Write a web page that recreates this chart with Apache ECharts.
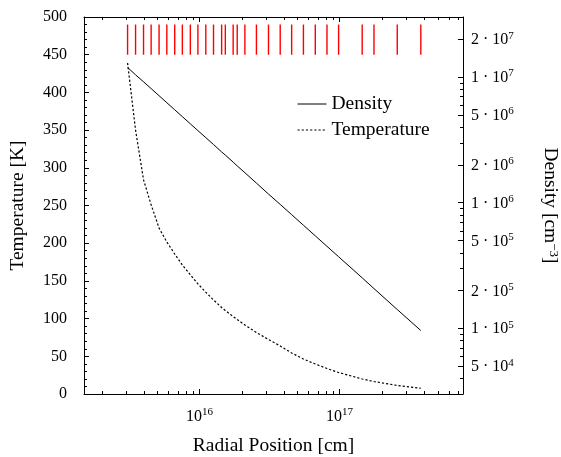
<!DOCTYPE html>
<html><head><meta charset="utf-8">
<script src="https://cdn.jsdelivr.net/npm/echarts@6/dist/echarts.min.js"></script>
<style>html,body{margin:0;padding:0;background:#fff}#c{width:561px;height:457px}</style>
</head><body><div id="c"></div>
<script>
// Radial grid cell positions [cm] (red marks) — also the sample radii of the profiles
const radius = [3.07e15, 3.50e15, 3.99e15, 4.52e15, 5.15e15, 5.85e15, 6.66e15, 7.55e15, 8.61e15, 9.75e15,
  1.11e16, 1.26e16, 1.44e16, 1.53e16, 1.74e16, 1.86e16, 2.11e16, 2.55e16, 3.11e16, 3.77e16,
  4.55e16, 5.52e16, 6.71e16, 8.13e16, 9.84e16, 1.45e17, 1.76e17, 2.58e17, 3.80e17];
// Density [cm^-3]
const density = [1.19e7, 1.04e7, 9.15e6, 8.08e6, 7.09e6, 6.24e6, 5.48e6, 4.83e6, 4.24e6, 3.74e6,
  3.29e6, 2.90e6, 2.53e6, 2.39e6, 2.10e6, 1.96e6, 1.73e6, 1.43e6, 1.17e6, 9.68e5,
  8.02e5, 6.61e5, 5.44e5, 4.49e5, 3.71e5, 2.52e5, 2.07e5, 1.41e5, 9.6e4];
// Temperature [K]
const temperature = [439, 350, 284, 251, 220, 201.6, 185.7, 171, 158, 146,
  135, 124.7, 114.7, 110.7, 102.8, 98.8, 91.5, 81.6, 72.3, 63.7,
  54.4, 46.4, 39.8, 33.8, 28.5, 19.9, 16.6, 11.3, 7.6];
// Axis ticks
const xMinorTicks = [2e15,3e15,4e15,5e15,6e15,7e15,8e15,9e15,
  2e16,3e16,4e16,5e16,6e16,7e16,8e16,9e16, 2e17,3e17,4e17,5e17,6e17,7e17];
const densityMinorTicks = [4e4,6e4,7e4,8e4,9e4, 3e5,4e5,6e5,7e5,8e5,9e5, 3e6,4e6,6e6,7e6,8e6,9e6];
const tempTicks = [0,50,100,150,200,250,300,350,400,450,500];
const densityLabelMultipliers = [1, 2, 5];
const markLow = 450, markHigh = 490;

const X_MIN = 1.5e15, X_MAX = 7.6e17;
const T_MIN = 0, T_MAX = 500;
const D_MIN = 3e4, D_MAX = 3e7;
const FONT = '"Liberation Serif", "DejaVu Serif", serif';

const chart = echarts.init(document.getElementById('c'), null, {renderer: 'canvas'});

const supRich = {
  b: {fontFamily: FONT, fontSize: 16, color: '#000', verticalAlign: 'bottom', lineHeight: 18},
  s: {fontFamily: FONT, fontSize: 11, color: '#000', verticalAlign: 'top', lineHeight: 11}
};
function expOf(v) { return Math.round(Math.log10(v)); }

function densityAxis(mult, idx) {
  return {
    type: 'log', logBase: 10, position: 'right',
    min: D_MIN / mult, max: D_MAX / mult,
    axisLine: {show: idx === 0, lineStyle: {color: '#000', width: 1}},
    axisTick: {show: true, inside: true, length: 5, lineStyle: {color: '#000', width: 1}},
    splitLine: {show: false}, minorTick: {show: false},
    axisLabel: {
      show: true, margin: 8, showMinLabel: false, showMaxLabel: false,
      formatter: v => '{b|' + mult + ' · 10}{s|' + expOf(v) + '}', rich: supRich
    },
    name: idx === 0 ? 'Density [cm{s|−3}]' : '',
    nameLocation: 'middle', nameRotate: -90, nameGap: 77,
    nameTextStyle: {fontFamily: FONT, fontSize: 19.5, color: '#000',
      rich: {s: {fontFamily: FONT, fontSize: 13, color: '#000', verticalAlign: 'top', lineHeight: 13}}}
  };
}

const option = {
  animation: false,
  backgroundColor: '#fff',
  grid: {left: 84, right: 98, top: 17, bottom: 63, containLabel: false, outerBoundsMode: 'none'},
  legend: {
    data: ['Density', 'Temperature'], orient: 'vertical', left: 297, top: 94, padding: 0,
    itemWidth: 29, itemHeight: 13, itemGap: 6,
    itemStyle: {opacity: 0, borderWidth: 0},
    lineStyle: {width: 1},
    textStyle: {fontFamily: FONT, fontSize: 19.5, color: '#000'}
  },
  xAxis: [
    {type: 'log', logBase: 10, min: X_MIN, max: X_MAX, position: 'bottom',
     axisLine: {lineStyle: {color: '#000', width: 1}},
     axisTick: {inside: true, length: 5, lineStyle: {color: '#000'}},
     splitLine: {show: false},
     axisLabel: {margin: 13, showMinLabel: false, showMaxLabel: false,
       formatter: v => '{b|10}{s|' + expOf(v) + '}', rich: supRich},
     name: 'Radial Position [cm]', nameLocation: 'middle', nameGap: 42,
     nameTextStyle: {fontFamily: FONT, fontSize: 19.5, color: '#000'}},
    {type: 'log', logBase: 10, min: X_MIN, max: X_MAX, position: 'top',
     axisLine: {lineStyle: {color: '#000', width: 1}},
     axisTick: {inside: true, length: 5, lineStyle: {color: '#000'}},
     splitLine: {show: false}, axisLabel: {show: false}}
  ],
  yAxis: [
    {type: 'value', min: T_MIN, max: T_MAX, interval: 50, position: 'left',
     axisLine: {show: true, lineStyle: {color: '#000', width: 1}},
     axisTick: {show: true, inside: true, length: 5, lineStyle: {color: '#000'}},
     minorTick: {show: true, splitNumber: 5, length: 3, lineStyle: {color: '#000'}},
     splitLine: {show: false},
     axisLabel: {margin: 17, fontFamily: FONT, fontSize: 16, color: '#000',
       formatter: v => tempTicks.indexOf(v) >= 0 ? String(v) : ''},
     name: 'Temperature [K]', nameLocation: 'middle', nameGap: 56,
     nameTextStyle: {fontFamily: FONT, fontSize: 19.5, color: '#000'}},
    densityAxis(densityLabelMultipliers[0], 0),
    densityAxis(densityLabelMultipliers[1], 1),
    densityAxis(densityLabelMultipliers[2], 2)
  ],
  series: [
    {name: 'Density', type: 'line', xAxisIndex: 0, yAxisIndex: 1, symbol: 'none',
     data: radius.map((r, i) => [r, density[i]]),
     lineStyle: {color: '#000', width: 1}, itemStyle: {color: '#000', opacity: 0}},
    {name: 'Temperature', type: 'line', xAxisIndex: 0, yAxisIndex: 0, symbol: 'none',
     data: radius.map((r, i) => [r, temperature[i]]),
     lineStyle: {color: '#000', width: 1.2, type: [2.2, 2]}, itemStyle: {color: '#000', opacity: 0}},
    {type: 'custom', xAxisIndex: 0, yAxisIndex: 0, silent: true,
     itemStyle: {color: '#ff0000'},
     data: radius.map(r => [r, markLow, markHigh]),
     renderItem: (params, api) => {
       const r = api.value(0);
       const p0 = api.coord([r, api.value(1)]), p1 = api.coord([r, api.value(2)]);
       return {type: 'rect', shape: {x: p0[0] - 0.7, y: p1[1], width: 1.4, height: p0[1] - p1[1]},
         style: {fill: '#ff0000', stroke: null}};
     }},
    {type: 'custom', xAxisIndex: 0, yAxisIndex: 0, silent: true,
     data: xMinorTicks.map(v => [v, 0]),
     renderItem: (params, api) => {
       const v = api.value(0);
       const b = api.coord([v, T_MIN]), t = api.coord([v, T_MAX]);
       const x = Math.round(b[0]) + 0.5;
       return {type: 'group', children: [
         {type: 'line', shape: {x1: x, y1: b[1], x2: x, y2: b[1] - 3}, style: {stroke: '#000', lineWidth: 1}},
         {type: 'line', shape: {x1: x, y1: t[1], x2: x, y2: t[1] + 3}, style: {stroke: '#000', lineWidth: 1}}
       ]};
     }},
    {type: 'custom', xAxisIndex: 0, yAxisIndex: 1, silent: true,
     data: densityMinorTicks.map(v => [X_MAX, v]),
     renderItem: (params, api) => {
       const p = api.coord([X_MAX, api.value(1)]);
       const y = Math.round(p[1]) + 0.5;
       return {type: 'line', shape: {x1: p[0], y1: y, x2: p[0] - 3, y2: y}, style: {stroke: '#000', lineWidth: 1}};
     }}
  ]
};
chart.setOption(option);
</script></body></html>
